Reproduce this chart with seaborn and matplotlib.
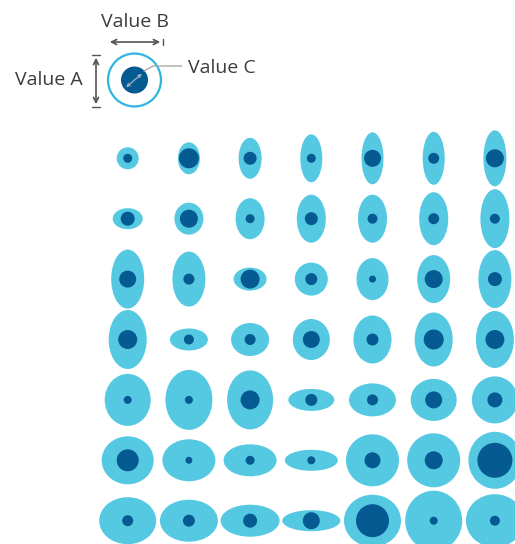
"""
Ellipse grid: each cell shows three values at once. Outer ellipse height = Value A,
outer ellipse width = Value B, inner dot diameter = Value C.
"""

import matplotlib
matplotlib.use("Agg")
import matplotlib.pyplot as plt
from matplotlib.patches import Ellipse, Circle
import numpy as np
import pandas as pd
import seaborn as sns

sns.set_theme(style="white")
plt.rcParams["font.family"] = ["Open Sans", "DejaVu Sans"]

# ── data: 7 x 7 grid, rows top to bottom, values in display units ──────────────
value_a = [  # outer height
    [22, 32, 41, 48, 52, 53, 56],
    [21, 32, 41, 48, 48, 53, 59],
    [59, 55, 23, 33, 42, 48, 58],
    [59, 22, 33, 41, 48, 54, 57],
    [52, 60, 59, 22, 33, 42, 47],
    [48, 42, 32, 21, 52, 54, 57],
    [47, 42, 32, 21, 52, 60, 53],
]
value_b = [  # outer width
    [22, 22, 23, 22, 22, 22, 23],
    [30, 29, 29, 29, 29, 29, 29],
    [33, 33, 33, 33, 32, 33, 33],
    [38, 38, 38, 37, 38, 38, 38],
    [46, 47, 46, 46, 47, 46, 46],
    [52, 53, 53, 53, 53, 53, 53],
    [57, 58, 59, 58, 57, 57, 58],
]
value_c = [  # inner dot diameter
    [9, 20, 13, 9, 17, 11, 18],
    [14, 18, 9, 13, 10, 11, 10],
    [17, 11, 19, 12, 7, 18, 14],
    [19, 10, 11, 17, 12, 20, 19],
    [8, 8, 19, 12, 11, 17, 15],
    [22, 7, 9, 8, 16, 18, 35],
    [11, 12, 14, 17, 33, 8, 10],
]
legend_labels = ["Value A", "Value B", "Value C"]

OUTER = "#55c9e2"
INNER = "#045a91"
TEXT = "#3d3d3d"
DPI = 100
W_PX, H_PX = 515, 544

# grid placement in the figure (pixels)
X0, Y0 = 127.7, 158.3
COL_STEP, ROW_STEP = 61.2, 60.4

n_rows, n_cols = len(value_a), len(value_a[0])
rows, cols = np.meshgrid(np.arange(n_rows), np.arange(n_cols), indexing="ij")
df = pd.DataFrame({
    "col": cols.ravel(),
    "row": rows.ravel(),
    "a": np.ravel(value_a),
    "b": np.ravel(value_b),
    "c": np.ravel(value_c),
})

fig = plt.figure(figsize=(W_PX / DPI, H_PX / DPI), dpi=DPI)
fig.patch.set_facecolor("white")

ax = fig.add_axes([0, 0, 1, 1])

for r in df.itertuples():
    ax.add_patch(Ellipse((r.col, r.row), r.b / COL_STEP, r.a / ROW_STEP,
                         facecolor=OUTER, edgecolor="none", zorder=1))

# inner dots: diameter in px -> marker area in points^2
df["s"] = (df["c"] * 72 / DPI) ** 2
sns.scatterplot(data=df, x="col", y="row", s=df["s"], color=INNER,
                linewidth=0, legend=False, ax=ax, zorder=2)
ax.set_xlim(-X0 / COL_STEP, (W_PX - X0) / COL_STEP)
ax.set_ylim((H_PX - Y0) / ROW_STEP, -Y0 / ROW_STEP)
ax.axis("off")

# ── key in the top-left corner, drawn in pixel coordinates ─────────────────────
lg = fig.add_axes([0, 1 - 120 / H_PX, 280 / W_PX, 120 / H_PX])
lg.set_xlim(0, 280)
lg.set_ylim(120, 0)
lg.axis("off")

cx, cy = 134.5, 80
lg.add_patch(Circle((cx, cy), 26.5, facecolor="white", edgecolor="#2fb6e0", lw=1.6))
lg.add_patch(Circle((cx, cy), 13.5, facecolor=INNER, edgecolor="none"))
lg.annotate("", xy=(124, 89), xytext=(144, 72),
            arrowprops=dict(arrowstyle="<->", color="#9fb3c8", lw=0.9,
                            mutation_scale=5))

arrow_kw = dict(arrowstyle="<->", color="#555555", lw=1.2, mutation_scale=9)
lg.annotate("", xy=(107, 42), xytext=(163, 42), arrowprops=arrow_kw)
lg.plot([163, 163], [39, 45], color="#555555", lw=1)
lg.annotate("", xy=(96, 55), xytext=(96, 107), arrowprops=arrow_kw)
lg.plot([92, 100], [55, 55], color="#555555", lw=1)
lg.plot([92, 100], [107, 107], color="#555555", lw=1)

lg.plot([144, 153, 182], [71, 66, 66], color="#aaaaaa", lw=1)

txt_kw = dict(fontsize=14, color=TEXT)
lg.text(83, 80, legend_labels[0], ha="right", va="center", **txt_kw)
lg.text(134.5, 22, legend_labels[1], ha="center", va="center", **txt_kw)
lg.text(188, 68, legend_labels[2], ha="left", va="center", **txt_kw)

fig.savefig("out.png", dpi=DPI, facecolor="white")
plt.close(fig)
